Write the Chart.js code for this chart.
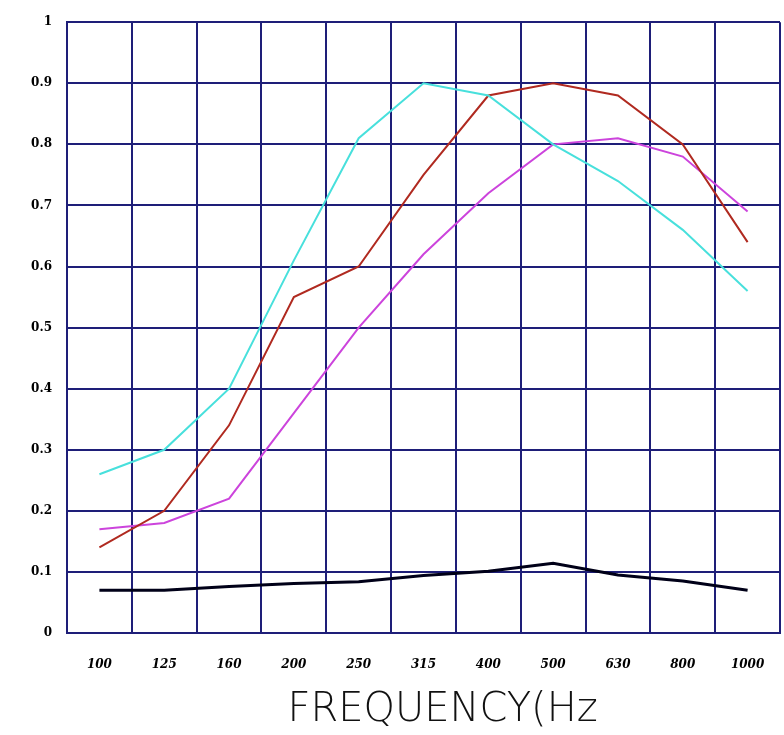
<!DOCTYPE html>
<html>
<head>
  <meta charset="UTF-8">
  <title>Frequency chart</title>
  <script src="https://cdn.jsdelivr.net/npm/chart.js"></script>
  <style>
    body { margin: 0; background: #fff; }
  </style>
</head>
<body>
  <canvas id="grafico" width="784" height="735"></canvas>

  <script>
  const frequencias = ['100', '125', '160', '200', '250', '315', '400', '500', '630', '800', '1000'];
  const serieCiano   = [0.26, 0.30, 0.40, 0.61, 0.81, 0.90, 0.88, 0.80, 0.74, 0.66, 0.56];
  const serieVermelha = [0.14, 0.20, 0.34, 0.55, 0.60, 0.75, 0.88, 0.90, 0.88, 0.80, 0.64];
  const serieMagenta = [0.17, 0.18, 0.22, 0.36, 0.50, 0.62, 0.72, 0.80, 0.81, 0.78, 0.69];
  const seriePreta   = [0.07, 0.07, 0.076, 0.081, 0.084, 0.094, 0.101, 0.114, 0.095, 0.085, 0.07];
  const tituloX = 'FREQUENCY(Hz';

  const grade = '#1e1e78';

  const ctx = document.getElementById('grafico').getContext('2d');
  new Chart(ctx, {
    type: 'line',
    data: {
      labels: frequencias,
      datasets: [
        { data: serieCiano, borderColor: '#48e0dc', borderWidth: 2 },
        { data: serieVermelha, borderColor: '#b02a20', borderWidth: 2 },
        { data: serieMagenta, borderColor: '#cc44dc', borderWidth: 2 },
        { data: seriePreta, borderColor: '#000018', borderWidth: 3 }
      ]
    },
    options: {
      responsive: false,
      animation: false,
      elements: { point: { radius: 0 }, line: { tension: 0 } },
      layout: { padding: { top: 20, right: 4, left: 0, bottom: 0 } },
      plugins: { legend: { display: false }, tooltip: { enabled: false } },
      scales: {
        x: {
          offset: true,
          grid: { offset: true, color: grade, lineWidth: 2, drawTicks: false },
          border: { color: grade, width: 2 },
          ticks: {
            padding: 10,
            color: '#000',
            maxRotation: 0,
            // linha vazia empurra o rótulo para baixo sem reservar margem à direita
            callback: function (v) { return ['', this.getLabelForValue(v)]; },
            font: { family: 'DejaVu Serif', style: 'italic', weight: 'bold', size: 12 }
          },
          title: {
            display: true,
            text: '   ' + tituloX,
            color: '#111',
            padding: { top: 6, bottom: 0 },
            font: { family: 'DejaVu Sans', weight: 200, size: 40 }
          },
          afterFit: (s) => { s.height = 102; }
        },
        y: {
          min: 0,
          max: 1,
          grid: { color: grade, lineWidth: 2, drawTicks: false },
          border: { color: grade, width: 2 },
          ticks: {
            stepSize: 0.1,
            padding: 15,
            color: '#000',
            callback: (v) => String(Math.round(v * 10) / 10),
            font: { family: 'DejaVu Serif', weight: 'bold', size: 12 }
          },
          afterFit: (s) => { s.width = 67; }
        }
      }
    }
  });
  </script>
</body>
</html>
